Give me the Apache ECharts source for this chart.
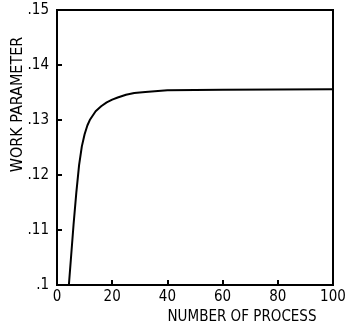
<!DOCTYPE html>
<html><head><meta charset="utf-8">
<script src="https://cdn.jsdelivr.net/npm/echarts@6/dist/echarts.min.js"></script>
<style>html,body{margin:0;padding:0;background:#fff}#c{width:347px;height:326px}</style>
</head><body><div id="c"></div>
<script>
const processCounts = [4.3, 5, 6, 7, 8, 9, 10, 11, 12, 14, 16, 18, 20, 22, 25, 28, 32, 40, 60, 100];
const workParameter = [0.1, 0.1045, 0.111, 0.1168, 0.1218, 0.1252, 0.1274, 0.129, 0.1301, 0.1316, 0.1325, 0.1332, 0.1337, 0.1341, 0.1346, 0.1349, 0.1351, 0.1354, 0.1355, 0.1356];
const xTicks = [0, 20, 40, 60, 80, 100];
const yTicks = [0.1, 0.11, 0.12, 0.13, 0.14, 0.15];
const xTitle = 'NUMBER OF PROCESS';
const yTitle = 'WORK PARAMETER';

const font = 'DejaVu Sans Condensed, DejaVu Sans, sans-serif';
const chart = echarts.init(document.getElementById('c'), null, {renderer: 'canvas'});
const fmtY = v => String(Math.round(v * 100) / 100).replace(/^0/, '');
chart.setOption({
  animation: false,
  backgroundColor: '#fff',
  grid: {left: 57, right: 14, top: 10, bottom: 41, containLabel: false, outerBoundsMode: 'none', show: true, borderColor: '#000', borderWidth: 2, backgroundColor: 'transparent'},
  xAxis: {
    type: 'value', min: xTicks[0], max: xTicks[xTicks.length - 1], interval: 20,
    name: xTitle, nameLocation: 'middle', nameGap: 24,
    nameTextStyle: {color: '#000', fontFamily: font, fontSize: 15, padding: [0, 0, 0, 94]},
    axisLine: {show: true, lineStyle: {color: '#000', width: 2}},
    axisTick: {show: true, inside: true, length: 5, lineStyle: {color: '#000', width: 2}},
    axisLabel: {color: '#000', fontFamily: font, fontSize: 15, margin: 5},
    splitLine: {show: false}
  },
  yAxis: {
    type: 'value', min: yTicks[0], max: yTicks[yTicks.length - 1], interval: 0.01,
    name: yTitle, nameLocation: 'middle', nameGap: 31, nameMoveOverlap: false,
    nameTextStyle: {color: '#000', fontFamily: font, fontSize: 16, padding: [0, 0, 0, 86]},
    axisLine: {show: true, lineStyle: {color: '#000', width: 2}},
    axisTick: {show: true, inside: true, length: 5, lineStyle: {color: '#000', width: 2}},
    axisLabel: {color: '#000', fontFamily: font, fontSize: 15, margin: 8, formatter: fmtY},
    splitLine: {show: false}
  },
  series: [{
    type: 'line',
    data: processCounts.map((x, i) => [x, workParameter[i]]),
    showSymbol: false, smooth: false,
    lineStyle: {color: '#000', width: 2, join: 'round'}
  }]
});
</script></body></html>
